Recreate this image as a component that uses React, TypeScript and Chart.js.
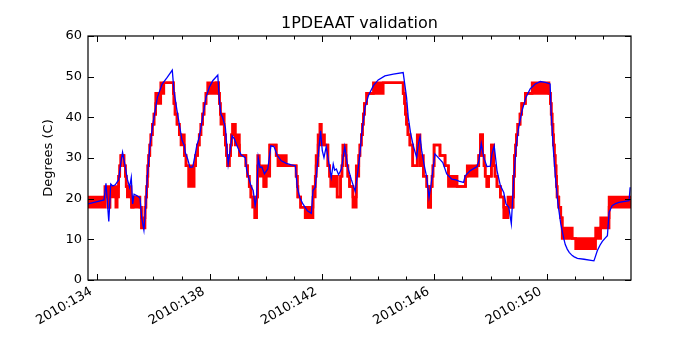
import React, { useEffect, useRef } from "react";
import { Chart, registerables } from "chart.js";

Chart.register(...registerables);

const chartTitle = "1PDEAAT validation";
const yTitle = "Degrees (C)";
const yearLabel = "2010";

const xMajorTicks = [134, 138, 142, 146, 150];
const xDayTicks = [134, 135, 136, 137, 138, 139, 140, 141, 142, 143, 144, 145, 146, 147, 148, 149, 150, 151, 152];
const yTicks = [0, 10, 20, 30, 40, 50, 60];

// Model (blue)
const blueDays = [
  133.67, 134.24, 134.31, 134.41, 134.48, 134.55, 134.64, 134.76, 134.83, 134.9,
  134.98, 135.07, 135.15, 135.21, 135.26, 135.31, 135.42, 135.52, 135.58, 135.66,
  135.73, 135.78, 135.88, 135.99, 136.14, 136.31, 136.49, 136.67, 136.73, 136.83,
  136.94, 137.02, 137.1, 137.13, 137.22, 137.3, 137.4, 137.49, 137.54, 137.63,
  137.75, 137.87, 137.99, 138.11, 138.29, 138.34, 138.4, 138.46, 138.56, 138.66,
  138.8, 138.88, 139.0, 139.12, 139.27, 139.32, 139.47, 139.55, 139.62, 139.67,
  139.73, 139.79, 139.86, 139.95, 140.07, 140.18, 140.29, 140.41, 140.55, 140.73,
  140.91, 141.05, 141.12, 141.21, 141.32, 141.48, 141.62, 141.68, 141.76, 141.86,
  141.95, 142.01, 142.07, 142.15, 142.24, 142.33, 142.4, 142.45, 142.51, 142.59,
  142.69, 142.81, 142.92, 143.04, 143.18, 143.28, 143.35, 143.42, 143.49, 143.53,
  143.65, 143.83, 144.0, 144.24, 144.54, 144.89, 145.01, 145.07, 145.16, 145.25,
  145.37, 145.43, 145.49, 145.55, 145.63, 145.73, 145.81, 145.87, 145.96, 146.02,
  146.14, 146.3, 146.44, 146.62, 146.77, 146.87, 147.04, 147.1, 147.28, 147.52,
  147.58, 147.67, 147.76, 147.87, 147.99, 148.05, 148.13, 148.23, 148.35, 148.47,
  148.55, 148.65, 148.74, 148.82, 148.91, 149.0, 149.12, 149.26, 149.41, 149.59,
  149.77, 149.95, 150.12, 150.16, 150.23, 150.32, 150.4, 150.5, 150.61, 150.66,
  150.73, 150.8, 150.91, 150.98, 151.09, 151.33, 151.68, 151.72, 151.8, 151.9,
  151.98, 152.08, 152.16, 152.22, 152.33, 152.45, 152.57, 152.93, 152.97
];
const blueTemps = [
  18.7, 19.7, 23.8, 14.4, 23.6, 23.1, 23.4, 24.6, 28.5, 31.4,
  28.5, 24.8, 22.8, 25.2, 18.7, 21.1, 20.7, 20.2, 15.4, 12.3,
  18.7, 25.2, 33.4, 38.8, 44.9, 48.2, 49.8, 51.6, 46.5, 42.0,
  37.5, 34.3, 33.0, 31.4, 29.7, 27.7, 27.8, 31.0, 33.0, 35.1,
  40.0, 44.9, 47.4, 49.0, 50.4, 44.9, 40.8, 40.0, 37.5, 28.5,
  35.5, 34.7, 32.6, 30.8, 30.1, 26.9, 23.2, 22.0, 18.3, 20.3,
  30.1, 27.7, 27.8, 26.1, 27.3, 33.0, 32.8, 30.6, 29.3, 28.7,
  28.3, 28.1, 22.8, 20.3, 18.7, 17.0, 16.4, 22.0, 22.8, 30.1,
  36.7, 31.8, 30.1, 32.8, 28.9, 25.2, 28.5, 27.0, 27.3, 25.9,
  27.3, 32.8, 27.7, 24.8, 21.8, 26.9, 31.0, 36.5, 40.0, 42.4,
  45.3, 47.8, 49.2, 50.2, 50.6, 51.0, 44.9, 40.0, 35.9, 33.0,
  30.1, 33.4, 35.2, 31.8, 28.5, 25.2, 20.3, 22.8, 27.7, 31.0,
  30.1, 28.9, 26.1, 24.8, 24.6, 24.3, 24.0, 25.6, 26.9, 27.9,
  29.2, 33.6, 30.1, 27.9, 28.0, 31.0, 33.0, 26.9, 23.2, 21.5,
  18.7, 17.9, 13.8, 24.4, 32.6, 37.5, 41.6, 44.9, 47.0, 48.2,
  48.8, 48.6, 48.2, 40.8, 32.6, 24.4, 18.7, 13.8, 10.1, 8.7,
  7.6, 6.8, 6.0, 5.7, 5.3, 5.1, 4.7, 5.5, 7.2, 8.6,
  9.5, 10.3, 10.9, 16.6, 18.3, 18.8, 19.1, 19.5, 22.8
];

// Telemetry (red), quantized: each entry holds from its day until the next one.
// Where low != high the telemetry flickers between the two counts.
const redDays = [
  133.67, 134.27, 134.38, 134.45, 134.66, 134.71, 134.76, 134.8, 134.84, 134.95,
  135.0, 135.03, 135.07, 135.2, 135.22, 135.28, 135.52, 135.57, 135.7, 135.73,
  135.76, 135.78, 135.8, 135.83, 135.87, 135.91, 135.96, 136.02, 136.08, 136.26,
  136.37, 136.71, 136.73, 136.77, 136.84, 136.92, 136.98, 137.1, 137.16, 137.25,
  137.45, 137.5, 137.57, 137.63, 137.69, 137.75, 137.8, 137.87, 137.93, 138.23,
  138.32, 138.35, 138.38, 138.4, 138.52, 138.56, 138.6, 138.64, 138.7, 138.75,
  138.78, 138.82, 138.91, 139.06, 139.29, 139.35, 139.41, 139.47, 139.53, 139.61,
  139.67, 139.71, 139.77, 139.93, 140.01, 140.14, 140.37, 140.43, 140.73, 141.08,
  141.12, 141.14, 141.24, 141.4, 141.68, 141.76, 141.79, 141.86, 141.93, 141.97,
  142.09, 142.21, 142.27, 142.31, 142.45, 142.54, 142.66, 142.71, 142.74, 142.86,
  142.92, 142.98, 143.1, 143.22, 143.31, 143.35, 143.4, 143.44, 143.47, 143.51,
  143.59, 143.83, 144.18, 144.89, 144.94, 144.97, 145.01, 145.06, 145.13, 145.23,
  145.39, 145.49, 145.61, 145.73, 145.79, 145.87, 145.92, 145.95, 145.99, 146.2,
  146.38, 146.5, 146.81, 147.11, 147.17, 147.52, 147.58, 147.64, 147.72, 147.77,
  147.81, 147.87, 147.93, 148.03, 148.11, 148.16, 148.23, 148.35, 148.47, 148.62,
  148.74, 148.8, 148.82, 148.85, 148.89, 148.92, 148.97, 149.05, 149.11, 149.24,
  149.48, 150.08, 150.13, 150.16, 150.19, 150.22, 150.24, 150.27, 150.3, 150.33,
  150.35, 150.37, 150.43, 150.5, 150.55, 150.91, 151.03, 151.74, 151.92, 152.22,
  153.0
];
const redLow = [
  17.9, 20.4, 17.9, 20.4, 17.9, 20.4, 25.5, 28.1, 30.6, 28.1,
  25.5, 23.0, 20.4, 20.4, 17.9, 17.9, 17.9, 12.8, 17.9, 20.4,
  23.0, 25.5, 28.1, 30.6, 33.2, 35.7, 38.3, 40.8, 43.4, 45.9,
  48.5, 45.9, 43.4, 40.8, 38.3, 35.7, 33.2, 30.6, 28.1, 23.0,
  28.1, 30.6, 33.2, 35.7, 38.3, 40.8, 43.4, 45.9, 45.9, 48.5,
  45.9, 43.4, 40.8, 38.3, 35.7, 33.2, 30.6, 28.1, 30.6, 33.2,
  35.7, 38.3, 33.2, 30.6, 28.1, 25.5, 23.0, 20.4, 17.9, 15.3,
  20.4, 28.1, 25.5, 23.0, 25.5, 33.2, 30.6, 28.1, 28.1, 25.5,
  23.0, 20.4, 17.9, 15.3, 20.4, 25.5, 28.1, 33.2, 38.3, 33.2,
  33.2, 28.1, 25.5, 23.0, 25.5, 20.4, 25.5, 28.1, 30.6, 28.1,
  25.5, 23.0, 17.9, 25.5, 30.6, 33.2, 35.7, 38.3, 40.8, 43.4,
  45.9, 45.9, 48.5, 45.9, 43.4, 40.8, 38.3, 35.7, 33.2, 28.1,
  33.2, 28.1, 25.5, 23.0, 17.9, 23.0, 25.5, 28.1, 33.2, 30.6,
  28.1, 23.0, 23.0, 25.5, 25.5, 28.1, 30.6, 35.7, 30.6, 28.1,
  25.5, 23.0, 25.5, 33.2, 28.1, 25.5, 23.0, 20.4, 15.3, 17.9,
  17.9, 20.4, 25.5, 30.6, 33.2, 35.7, 38.3, 40.8, 43.4, 45.9,
  45.9, 45.9, 43.4, 40.8, 38.3, 35.7, 33.2, 30.6, 28.1, 25.5,
  23.0, 20.4, 17.9, 15.3, 10.2, 10.2, 7.7, 10.2, 12.8, 17.9,
  17.9
];
const redHigh = [
  20.4, 23.0, 17.9, 23.0, 20.4, 23.0, 25.5, 28.1, 30.6, 28.1,
  25.5, 23.0, 23.0, 20.4, 17.9, 20.4, 17.9, 15.3, 17.9, 20.4,
  23.0, 25.5, 28.1, 30.6, 33.2, 35.7, 38.3, 40.8, 45.9, 48.5,
  48.5, 45.9, 43.4, 40.8, 38.3, 35.7, 35.7, 30.6, 28.1, 28.1,
  28.1, 30.6, 33.2, 35.7, 38.3, 40.8, 43.4, 45.9, 48.5, 48.5,
  45.9, 43.4, 40.8, 40.8, 35.7, 33.2, 30.6, 28.1, 30.6, 33.2,
  35.7, 38.3, 35.7, 30.6, 28.1, 25.5, 23.0, 20.4, 20.4, 15.3,
  20.4, 30.6, 28.1, 23.0, 28.1, 33.2, 30.6, 30.6, 28.1, 25.5,
  23.0, 20.4, 17.9, 17.9, 23.0, 25.5, 30.6, 35.7, 38.3, 35.7,
  33.2, 28.1, 25.5, 25.5, 25.5, 20.4, 25.5, 28.1, 33.2, 28.1,
  25.5, 23.0, 20.4, 28.1, 30.6, 33.2, 35.7, 38.3, 40.8, 43.4,
  45.9, 48.5, 48.5, 45.9, 43.4, 40.8, 38.3, 35.7, 33.2, 28.1,
  35.7, 30.6, 25.5, 23.0, 17.9, 23.0, 25.5, 28.1, 33.2, 30.6,
  28.1, 25.5, 23.0, 25.5, 28.1, 28.1, 30.6, 35.7, 30.6, 28.1,
  25.5, 23.0, 25.5, 33.2, 28.1, 25.5, 23.0, 20.4, 17.9, 20.4,
  17.9, 20.4, 25.5, 30.6, 33.2, 35.7, 38.3, 40.8, 43.4, 45.9,
  48.5, 45.9, 43.4, 40.8, 38.3, 35.7, 33.2, 30.6, 28.1, 25.5,
  23.0, 20.4, 17.9, 15.3, 12.8, 10.2, 10.2, 12.8, 15.3, 20.4,
  20.4
];

const mplTicks = {
  id: "mplTicks",
  afterDatasetsDraw(chart: any) {
    const { ctx, chartArea, scales } = chart;
    const { left, right, top, bottom } = chartArea;
    const xs = scales.x;
    const ys = scales.y;
    ctx.save();
    ctx.strokeStyle = "#000";
    ctx.lineWidth = 1;
    ctx.beginPath();
    for (const d of xDayTicks) {
      const px = Math.round(xs.getPixelForValue(d)) + 0.5;
      const len = xMajorTicks.includes(d) ? 6 : 3.5;
      ctx.moveTo(px, bottom);
      ctx.lineTo(px, bottom - len);
      ctx.moveTo(px, top);
      ctx.lineTo(px, top + len);
    }
    for (const v of yTicks) {
      const py = Math.round(ys.getPixelForValue(v)) + 0.5;
      ctx.moveTo(left, py);
      ctx.lineTo(left + 6, py);
      ctx.moveTo(right, py);
      ctx.lineTo(right - 6, py);
    }
    ctx.stroke();
    ctx.lineWidth = 1.2;
    ctx.strokeRect(left, top, right - left, bottom - top);
    ctx.restore();
  },
};

export default function App() {
  const canvasRef = useRef<HTMLCanvasElement | null>(null);

  useEffect(() => {
    const canvas = canvasRef.current;
    if (!canvas) return;
    Chart.defaults.font.family = "'DejaVu Sans', sans-serif";
    Chart.defaults.color = "#000";

    const blueData = blueDays.map((d, i) => ({ x: d, y: blueTemps[i] }));
    const redLowData = redDays.map((d, i) => ({ x: d, y: redLow[i] }));
    const redHighData = redDays.map((d, i) => ({ x: d, y: redHigh[i] }));

    const chart = new Chart(canvas, {
      type: "line",
      data: {
        datasets: [
          {
            label: "model",
            data: blueData,
            borderColor: "#0000ff",
            borderWidth: 1.3,
            pointRadius: 0,
            fill: false,
            tension: 0,
            order: 0,
            clip: 0,
          },
          {
            label: "telemetry low",
            data: redLowData,
            borderColor: "#ff0000",
            borderWidth: 2.6,
            pointRadius: 0,
            stepped: true,
            fill: false,
            order: 2,
            clip: 0,
          },
          {
            label: "telemetry high",
            data: redHighData,
            borderColor: "#ff0000",
            backgroundColor: "#ff0000",
            borderWidth: 2.6,
            pointRadius: 0,
            stepped: true,
            fill: "-1",
            order: 1,
            clip: 0,
          },
        ],
      },
      options: {
        animation: false,
        responsive: false,
        events: [],
        layout: { padding: { left: 0, right: 69, top: 0, bottom: 0 } },
        plugins: {
          legend: { display: false },
          tooltip: { enabled: false },
          title: {
            display: true,
            text: chartTitle,
            color: "#000",
            fullSize: false,
            font: { size: 16, weight: "normal", lineHeight: 1.25 },
            padding: { top: 14, bottom: 2 },
          },
        },
        scales: {
          x: {
            type: "linear",
            min: 133.67,
            max: 153.0,
            afterBuildTicks: (s: any) => {
              s.ticks = xDayTicks.map((v) => ({ value: v }));
            },
            afterFit: (s: any) => {
              s.height = 70;
            },
            ticks: {
              autoSkip: false,
              minRotation: 30,
              maxRotation: 30,
              padding: 4,
              labelOffset: -6,
              color: "#000",
              font: { size: 13 },
              callback: (v: any) => (xMajorTicks.includes(Number(v)) ? `${yearLabel}:${v}` : ""),
            },
            grid: { display: false, drawTicks: false },
            border: { display: false },
          },
          y: {
            type: "linear",
            min: 0,
            max: 60,
            afterBuildTicks: (s: any) => {
              s.ticks = yTicks.map((v) => ({ value: v }));
            },
            afterFit: (s: any) => {
              s.width = 88;
            },
            ticks: {
              padding: 6,
              color: "#000",
              font: { size: 13 },
            },
            grid: { display: false, drawTicks: false },
            border: { display: false },
            title: {
              display: true,
              text: yTitle,
              color: "#000",
              font: { size: 13 },
              padding: { top: 41, bottom: 0 },
            },
          },
        },
      },
      plugins: [mplTicks],
    });
    return () => chart.destroy();
  }, []);

  return (
    <div style={{ position: "absolute", left: 0, top: 0, width: 700, height: 350, background: "#fff" }}>
      <canvas ref={canvasRef} width={700} height={350} style={{ display: "block" }} />
    </div>
  );
}
